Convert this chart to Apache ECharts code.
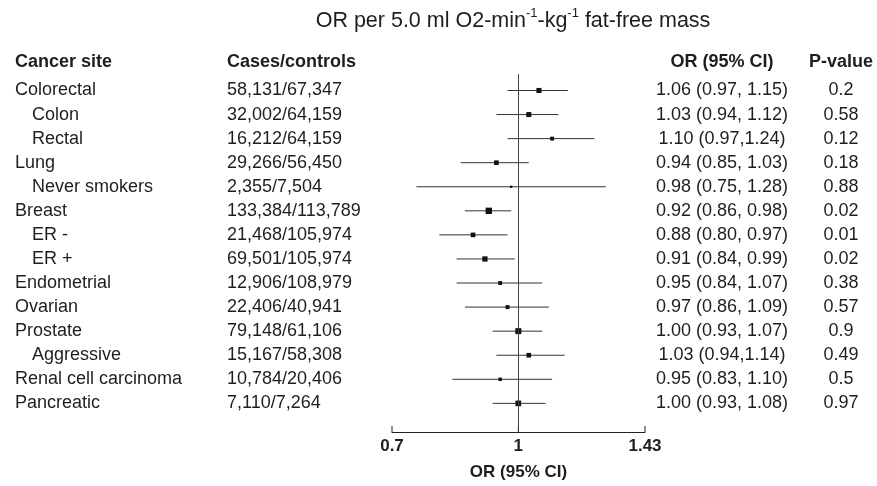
<!DOCTYPE html>
<html><head><meta charset="utf-8">
<script src="https://cdn.jsdelivr.net/npm/echarts@6/dist/echarts.min.js"></script>
<style>html,body{margin:0;padding:0;background:#fff}#c{width:877px;height:486px}</style>
</head><body><div id="c"></div>
<script>
// ---- data ----
const sites = ['Colorectal','Colon','Rectal','Lung','Never smokers','Breast','ER -','ER +','Endometrial','Ovarian','Prostate','Aggressive','Renal cell carcinoma','Pancreatic'];
const isSubgroup = [false,true,true,false,true,false,true,true,false,false,false,true,false,false];
const casesControls = ['58,131/67,347','32,002/64,159','16,212/64,159','29,266/56,450','2,355/7,504','133,384/113,789','21,468/105,974','69,501/105,974','12,906/108,979','22,406/40,941','79,148/61,106','15,167/58,308','10,784/20,406','7,110/7,264'];
const orValues = [1.06,1.03,1.10,0.94,0.98,0.92,0.88,0.91,0.95,0.97,1.00,1.03,0.95,1.00];
const ciLower  = [0.97,0.94,0.97,0.85,0.75,0.86,0.80,0.84,0.84,0.86,0.93,0.94,0.83,0.93];
const ciUpper  = [1.15,1.12,1.24,1.03,1.28,0.98,0.97,0.99,1.07,1.09,1.07,1.14,1.10,1.08];
const orLabels = ['1.06 (0.97, 1.15)','1.03 (0.94, 1.12)','1.10 (0.97,1.24)','0.94 (0.85, 1.03)','0.98 (0.75, 1.28)','0.92 (0.86, 0.98)','0.88 (0.80, 0.97)','0.91 (0.84, 0.99)','0.95 (0.84, 1.07)','0.97 (0.86, 1.09)','1.00 (0.93, 1.07)','1.03 (0.94,1.14)','0.95 (0.83, 1.10)','1.00 (0.93, 1.08)'];
const pValues = ['0.2','0.58','0.12','0.18','0.88','0.02','0.01','0.02','0.38','0.57','0.9','0.49','0.5','0.97'];
const axisTickValues = [0.7, 1, 1.43];
const axisTickLabels = ['0.7', '1', '1.43'];
const headers = ['Cancer site', 'Cases/controls', 'OR (95% CI)', 'P-value'];
const axisTitle = 'OR (95% CI)';
const chartTitle = '{b|OR per 5.0 ml O2-min}{sup|-1}{b|-kg}{sup|-1}{b| fat-free mass}';

// ---- layout ----
const FONT = '"Liberation Sans", Arial, Helvetica, sans-serif';
const TXT = '#1e1e1e';
const Y_MIN = -0.685, Y_MAX = 14.19;
const COL_NAME = 15, COL_SUB = 32, COL_CASES = 227, COL_OR = 722, COL_P = 841;
const HEADER_Y = 62.5;

const chart = echarts.init(document.getElementById('c'), null, {renderer: 'canvas'});

const forestData = sites.map((s, i) => [orValues[i], ciLower[i], ciUpper[i], i]);
const tableData = sites.map((s, i) => [1, i]);
const tickData = axisTickValues.map((v, i) => [v, Y_MAX, i]);

function txt(text, x, y, align, bold, size) {
  return {
    type: 'text',
    style: {
      text: text, x: x, y: y, fill: TXT,
      font: (bold ? 'bold ' : '') + (size || 18) + 'px ' + FONT,
      align: align, verticalAlign: 'middle'
    }
  };
}

chart.setOption({
  animation: false,
  backgroundColor: '#fff',
  grid: {left: 392, right: 232, top: 74, bottom: 53},
  xAxis: {
    type: 'log', logBase: 10, min: 0.7, max: 1.43,
    axisLine: {show: true, onZero: false, lineStyle: {color: '#222', width: 1}},
    axisTick: {show: false}, axisLabel: {show: false}, splitLine: {show: false},
    name: axisTitle, nameLocation: 'middle', nameGap: 32,
    nameTextStyle: {fontFamily: FONT, fontWeight: 'bold', fontSize: 17, color: TXT}
  },
  yAxis: {type: 'value', inverse: true, min: Y_MIN, max: Y_MAX, show: false},
  graphic: [
    {
      type: 'text', x: 513, y: 19.5,
      style: {
        text: chartTitle,
        align: 'center', verticalAlign: 'middle',
        font: '21.5px ' + FONT, fill: TXT,
        rich: {
          b: {fontSize: 21.5, fontFamily: FONT, fill: TXT, verticalAlign: 'top', padding: [4, 0, 0, 0]},
          sup: {fontSize: 13, fontFamily: FONT, fill: TXT, verticalAlign: 'top'}
        }
      }
    }
  ],
  series: [
    {
      type: 'custom', name: 'forest', clip: false,
      data: forestData,
      encode: {x: [0, 1, 2], y: 3},
      renderItem: function (params, api) {
        const r = api.value(3);
        const c = api.coord([api.value(0), r]);
        const lo = api.coord([api.value(1), r]);
        const hi = api.coord([api.value(2), r]);
        const size = 1 + 0.7 / Math.log(api.value(2) / api.value(1));
        return {
          type: 'group',
          children: [
            {type: 'line', shape: {x1: lo[0], y1: c[1], x2: hi[0], y2: c[1]},
             style: {stroke: '#333', lineWidth: 1}},
            {type: 'rect', shape: {x: c[0] - size / 2, y: c[1] - size / 2, width: size, height: size},
             style: {fill: '#111'}}
          ]
        };
      },
      markLine: {
        silent: true, symbol: 'none', label: {show: false},
        lineStyle: {color: '#444', type: 'solid', width: 1},
        data: [{xAxis: 1}]
      }
    },
    {
      type: 'custom', name: 'table', clip: false,
      data: tableData,
      encode: {x: 0, y: 1},
      renderItem: function (params, api) {
        const i = api.value(1);
        const y = api.coord([1, i])[1];
        return {
          type: 'group',
          children: [
            txt(sites[i], isSubgroup[i] ? COL_SUB : COL_NAME, y, 'left'),
            txt(casesControls[i], COL_CASES, y, 'left'),
            txt(orLabels[i], COL_OR, y, 'center'),
            txt(pValues[i], COL_P, y, 'center')
          ]
        };
      }
    },
    {
      type: 'custom', name: 'ticks', clip: false,
      data: tickData,
      encode: {x: 0, y: 1},
      renderItem: function (params, api) {
        const p = api.coord([api.value(0), api.value(1)]);
        return {
          type: 'group',
          children: [
            {type: 'line', shape: {x1: p[0], y1: p[1], x2: p[0], y2: p[1] - 6},
             style: {stroke: '#222', lineWidth: 1}},
            txt(axisTickLabels[api.value(2)], p[0], p[1] + 14, 'center', true, 17)
          ]
        };
      }
    },
    {
      type: 'custom', name: 'headers', clip: false,
      data: [[0.7, Y_MIN]],
      encode: {x: 0, y: 1},
      renderItem: function () {
        return {
          type: 'group',
          children: [
            txt(headers[0], COL_NAME, HEADER_Y, 'left', true),
            txt(headers[1], COL_CASES, HEADER_Y, 'left', true),
            txt(headers[2], COL_OR, HEADER_Y, 'center', true),
            txt(headers[3], COL_P, HEADER_Y, 'center', true)
          ]
        };
      }
    }
  ]
});
</script>
</body></html>
